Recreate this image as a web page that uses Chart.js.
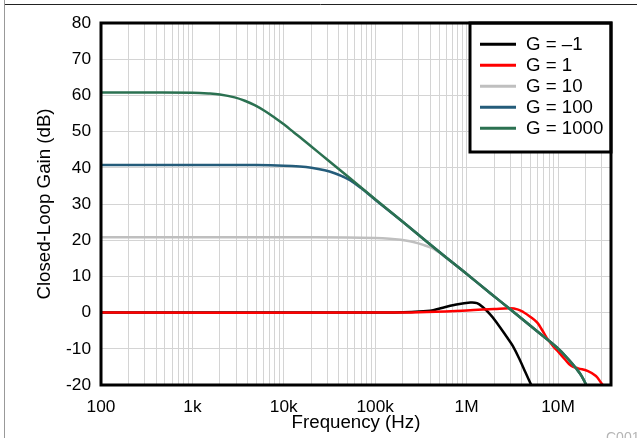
<!DOCTYPE html>
<html>
<head>
<meta charset="utf-8">
<script src="https://cdn.jsdelivr.net/npm/chart.js@4.4.0/dist/chart.umd.min.js"></script>
<style>
  html, body { margin: 0; padding: 0; background: #fff; }
  #wrap { width: 637px; height: 438px; }
</style>
</head>
<body>
<div id="wrap"><canvas id="gainChart" width="637" height="438"></canvas></div>
<script>
// axis
const xMin = 100;
const xMax = 3.8e7;
const xDecades = [100, 1e3, 1e4, 1e5, 1e6, 1e7];
const xTickLabels = ['100', '1k', '10k', '100k', '1M', '10M'];
const xGridMultiples = [1, 2, 3, 4, 5, 6, 7, 8, 9];
const yMin = -20, yMax = 80, yStep = 10;

// series
const seriesLabels = ['G = \u20131', 'G = 1', 'G = 10', 'G = 100', 'G = 1000'];
const seriesColors = ['#000000', '#ff0000', '#bfbfbf', '#245c7a', '#2b7151'];

const gNeg1Freq = [100, 1e5, 2.5e5, 4e5, 5.2e5, 7.3e5, 1.1e6, 1.3e6, 1.52e6, 1.8e6, 2.1e6, 2.78e6, 3.2e6, 3.86e6, 4.4e6, 5.1e6];
const gNeg1Gain = [0, 0.05, 0.2, 0.5, 1.2, 2.1, 2.8, 2.6, 1.4, -0.4, -2.5, -6.9, -9.2, -13.3, -16.5, -20];

const g1Freq = [100, 1e5, 3e5, 1e6, 2e6, 3e6, 3.6e6, 4.2e6, 5e6, 5.9e6, 6.7e6, 7.5e6, 8.8e6, 1.02e7, 1.2e7, 1.39e7, 1.66e7, 2.1e7, 2.6e7, 2.96e7, 3.2e7];
const g1Gain = [0, 0, 0.1, 0.6, 1.0, 1.2, 0.9, 0.1, -1.2, -2.7, -4.8, -6.9, -9.2, -11.0, -13.0, -14.7, -15.4, -16.1, -17.5, -19.4, -20.5];

const g10Freq = [100, 1e4, 5e4, 1e5, 1.44e5, 1.9e5, 2.4e5, 2.9e5, 3.4e5, 4.17e5, 5e5, 6e5, 9.23e5, 1.83e6, 3e6, 6e6, 9.8e6, 1.3e7, 1.6e7, 1.8e7, 2.04e7];
const g10Gain = [20.8, 20.8, 20.75, 20.6, 20.4, 20.1, 19.7, 19.2, 18.65, 17.85, 16.6, 15.1, 11.4, 5.3, 0.9, -5.3, -9.7, -12.9, -15.6, -17.4, -20];

const g100Freq = [100, 1000, 5000, 1e4, 1.5e4, 2e4, 2.8e4, 3.6e4, 4.4e4, 5.3e4, 7e4, 1e5, 2e5, 4e5, 9.23e5, 1.83e6, 3e6, 6e6, 9.8e6, 1.3e7, 1.6e7, 1.8e7, 2.04e7];
const g100Gain = [40.8, 40.8, 40.75, 40.6, 40.35, 40.0, 39.3, 38.5, 37.6, 36.6, 34.4, 31.2, 25.1, 18.8, 11.4, 5.3, 0.9, -5.3, -9.7, -12.9, -15.6, -17.4, -20];

const g1000Freq = [100, 300, 1000, 1500, 2000, 2900, 3800, 4800, 6200, 7900, 1e4, 1.3e4, 1.6e4, 2e4, 3e4, 5.3e4, 1e5, 2e5, 4e5, 9.23e5, 1.83e6, 3e6, 6e6, 9.8e6, 1.3e7, 1.6e7, 1.8e7, 2.04e7];
const g1000Gain = [60.8, 60.8, 60.75, 60.55, 60.25, 59.45, 58.45, 57.3, 55.7, 53.9, 52.0, 49.7, 47.9, 45.9, 42.2, 37.1, 31.3, 25.1, 18.8, 11.4, 5.3, 0.9, -5.3, -9.7, -12.9, -15.6, -17.4, -20];

const seriesFreq = [gNeg1Freq, g1Freq, g10Freq, g100Freq, g1000Freq];
const seriesGain = [gNeg1Gain, g1Gain, g10Gain, g100Gain, g1000Gain];
// lower order is drawn on top: green, blue, gray, red, black
const seriesOrder = [4, 3, 2, 1, 0];

const FONT = 'Liberation Sans';
Chart.defaults.font.family = FONT;
Chart.defaults.color = '#000';

const xGrid = [];
xDecades.forEach(d => xGridMultiples.forEach(m => { if (d * m <= xMax) xGrid.push(d * m); }));

const datasets = seriesLabels.map((lbl, i) => ({
    label: lbl,
    data: seriesFreq[i].map((f, j) => ({ x: f, y: seriesGain[i][j] })),
    borderColor: seriesColors[i],
    borderWidth: 2.5,
    pointRadius: 0,
    fill: false,
    tension: 0.4,
    order: seriesOrder[i]
}));

const framePlugin = {
    id: 'frame',
    beforeDraw(chart) {
        const c = chart.ctx;
        c.save();
        c.fillStyle = '#fff';
        c.fillRect(0, 0, chart.width, chart.height);
        c.lineWidth = 1;
        c.strokeStyle = '#222';
        c.beginPath(); c.moveTo(4, 4.5); c.lineTo(chart.width, 4.5); c.stroke();
        c.strokeStyle = '#999';
        c.beginPath(); c.moveTo(4.5, 0); c.lineTo(4.5, chart.height); c.stroke();
        c.fillStyle = '#b5b5b5';
        c.font = '14px ' + FONT;
        c.fillText('C001', 606, 442);
        c.restore();
    },
    afterDatasetsDraw(chart) {
        const c = chart.ctx;
        const a = chart.chartArea;
        c.save();
        // legend box in the top right corner
        const lw = 141, lh = 129;
        const lx = a.right - lw, ly = a.top;
        c.fillStyle = '#fff';
        c.fillRect(lx, ly, lw, lh);
        c.lineWidth = 3;
        c.strokeStyle = '#000';
        c.strokeRect(lx, ly, lw, lh);
        c.font = '18.7px ' + FONT;
        c.textBaseline = 'middle';
        chart.data.datasets.forEach((ds, i) => {
            const yy = ly + 21.3 + i * 21;
            c.strokeStyle = ds.borderColor;
            c.lineWidth = 3;
            c.beginPath(); c.moveTo(lx + 10, yy); c.lineTo(lx + 46, yy); c.stroke();
            c.fillStyle = '#000';
            c.fillText(ds.label, lx + 56, yy + 1);
        });
        // plot frame
        c.lineWidth = 3;
        c.strokeStyle = '#000';
        c.strokeRect(a.left, a.top, a.right - a.left, a.bottom - a.top);
        c.restore();
    }
};

const ctx = document.getElementById('gainChart').getContext('2d');

const gainChart = new Chart(ctx, {
    type: 'line',
    data: { datasets: datasets },
    plugins: [framePlugin],
    options: {
        responsive: false,
        animation: false,
        layout: { padding: { left: 0, right: 26, top: 23, bottom: 0 } },
        plugins: {
            legend: { display: false },
            tooltip: { enabled: false }
        },
        scales: {
            x: {
                type: 'logarithmic',
                min: xMin,
                max: xMax,
                afterBuildTicks: (scale) => {
                    scale.ticks = xGrid.map(v => ({ value: v }));
                },
                afterFit: (scale) => { scale.height = 53; },
                ticks: {
                    autoSkip: false,
                    maxRotation: 0,
                    padding: 12,
                    font: { size: 17.3 },
                    color: '#000',
                    callback: (value) => {
                        const k = xDecades.indexOf(value);
                        return k >= 0 ? xTickLabels[k] : '';
                    }
                },
                grid: { color: '#d4d4d4', lineWidth: 1, drawTicks: false },
                border: { display: false },
                title: {
                    display: true,
                    text: 'Frequency (Hz)',
                    font: { size: 18.7 },
                    color: '#000',
                    padding: { top: 0, bottom: 4 }
                }
            },
            y: {
                min: yMin,
                max: yMax,
                afterFit: (scale) => { scale.width = 101; },
                ticks: {
                    stepSize: yStep,
                    padding: 10,
                    font: { size: 17.3 },
                    color: '#000'
                },
                grid: { color: '#d4d4d4', lineWidth: 1, drawTicks: false },
                border: { display: false },
                title: {
                    display: true,
                    text: 'Closed-Loop Gain (dB)',
                    font: { size: 18.7 },
                    color: '#000',
                    padding: { top: 34, bottom: 0 }
                }
            }
        }
    }
});
</script>
</body>
</html>
